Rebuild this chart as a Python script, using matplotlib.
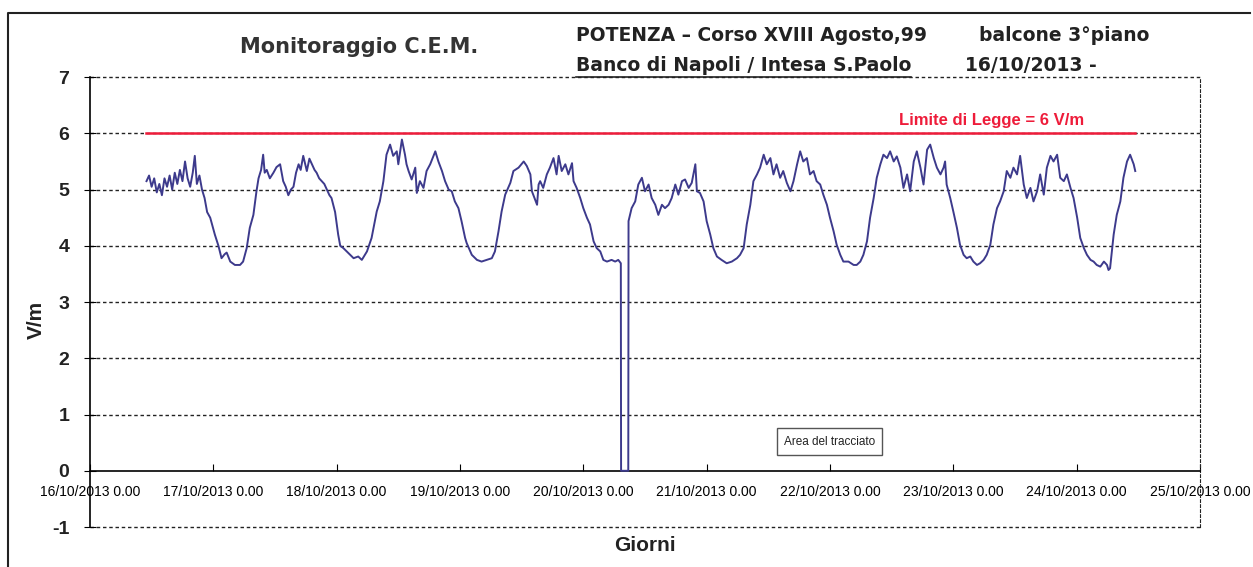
import matplotlib
matplotlib.use('Agg')
import matplotlib.pyplot as plt
from matplotlib.lines import Line2D

plt.rcParams['font.family'] = ['Liberation Sans', 'DejaVu Sans']

# ore dal 16/10/2013 0.00 e valori letti (V/m)
ore = [11.0, 11.5, 12.0, 12.5, 13.0, 13.5, 14.0, 14.5, 15.0, 15.5, 16.0, 16.5, 17.0, 17.5,
       18.0, 18.5, 19.0, 19.5, 20.0, 20.4, 20.8, 21.3, 21.8, 22.3, 22.8, 23.4, 24.3, 25.0,
       25.6, 26.2, 26.6, 27.3, 28.2, 29.2, 29.8, 30.5, 31.1, 31.8, 32.4, 32.8, 33.3, 33.7,
       34.0, 34.4, 35.0, 35.7, 36.3, 37.0, 37.6, 38.1, 38.6, 39.1, 39.6, 40.1, 40.6, 41.0,
       41.5, 42.2, 42.7, 43.2, 43.7, 44.1, 44.6, 45.1, 45.6, 46.1, 46.6, 47.0, 47.7, 48.3,
       48.7, 49.3, 50.3, 51.3, 52.2, 52.9, 53.9, 54.8, 55.8, 56.4, 57.1, 57.7, 58.4, 59.0,
       59.7, 60.0, 60.7, 61.3, 61.6, 62.0, 62.6, 63.3, 63.6, 64.2, 64.9, 65.5, 66.2, 67.2,
       67.8, 68.5, 69.1, 69.8, 70.4, 71.0, 71.7, 72.3, 73.0, 73.3, 74.3, 75.3, 76.2, 77.2,
       78.2, 78.8, 79.5, 80.1, 80.8, 81.8, 82.4, 83.4, 84.4, 85.0, 85.7, 86.0, 87.0, 87.3,
       87.6, 88.2, 88.9, 89.5, 90.2, 90.8, 91.2, 91.8, 92.5, 93.1, 93.8, 94.1, 94.7, 95.4,
       96.0, 96.7, 97.3, 98.0, 98.6, 99.3, 99.9, 100.6, 101.5, 102.2, 102.8, 103.3, 103.35,
       104.75, 104.8, 105.4, 106.1, 106.7, 107.4, 108.0, 108.7, 109.3, 110.0, 110.6, 111.3,
       111.9, 112.6, 113.2, 113.9, 114.5, 115.2, 115.8, 116.5, 117.1, 117.8, 118.1, 118.7,
       119.4, 120.0, 120.7, 121.3, 122.0, 122.9, 123.9, 124.9, 125.9, 126.5, 127.2, 127.8,
       128.5, 129.1, 129.8, 130.4, 131.1, 131.7, 132.4, 133.0, 133.6, 134.3, 134.9, 135.6,
       136.3, 136.9, 137.6, 138.2, 138.8, 139.5, 140.1, 140.8, 141.4, 142.1, 142.7, 143.4,
       144.0, 144.7, 145.3, 146.0, 146.6, 147.6, 148.6, 149.2, 149.9, 150.5, 151.2, 151.8,
       152.5, 153.1, 153.8, 154.4, 155.1, 155.7, 156.4, 157.0, 157.7, 158.3, 159.0, 159.6,
       160.3, 160.9, 161.6, 162.2, 162.9, 163.5, 164.2, 164.8, 165.5, 166.1, 166.4, 166.7,
       167.4, 168.0, 168.7, 169.3, 170.0, 170.6, 171.3, 171.9, 172.6, 173.2, 173.9, 174.5,
       175.2, 175.8, 176.5, 177.1, 177.8, 178.4, 179.1, 179.7, 180.4, 181.0, 181.7, 182.3,
       183.0, 183.6, 184.3, 184.9, 185.6, 186.2, 186.9, 187.5, 188.2, 188.8, 189.5, 190.1,
       190.8, 191.4, 192.1, 192.7, 193.4, 194.0, 194.7, 195.3, 195.9, 196.6, 197.3, 197.9,
       198.2, 198.5, 199.2, 199.8, 200.5, 201.1, 201.8, 202.4, 203.1, 203.4]
vm = [5.15, 5.25, 5.05, 5.2, 4.95, 5.1, 4.9, 5.2, 5.05, 5.25, 5.0, 5.3, 5.1, 5.35,
      5.15, 5.5, 5.2, 5.05, 5.3, 5.6, 5.1, 5.25, 5.0, 4.85, 4.6, 4.5, 4.2, 4.0,
      3.78, 3.85, 3.88, 3.72, 3.66, 3.66, 3.72, 3.96, 4.32, 4.55, 4.97, 5.2, 5.35, 5.62,
      5.3, 5.35, 5.2, 5.3, 5.4, 5.45, 5.15, 5.05, 4.9, 5.0, 5.05, 5.3, 5.45, 5.35,
      5.6, 5.33, 5.55, 5.45, 5.35, 5.3, 5.2, 5.15, 5.1, 5.0, 4.9, 4.85, 4.6, 4.2,
      4.0, 3.96, 3.87, 3.78, 3.81, 3.75, 3.9, 4.14, 4.61, 4.79, 5.15, 5.62, 5.8, 5.6,
      5.68, 5.45, 5.89, 5.62, 5.45, 5.33, 5.18, 5.39, 4.94, 5.15, 5.03, 5.33, 5.45, 5.68,
      5.5, 5.33, 5.15, 5.0, 4.97, 4.79, 4.67, 4.44, 4.14, 4.05, 3.84, 3.75, 3.72, 3.75,
      3.78, 3.9, 4.26, 4.61, 4.91, 5.12, 5.33, 5.39, 5.5, 5.42, 5.27, 4.97, 4.73, 5.09,
      5.15, 5.03, 5.27, 5.39, 5.56, 5.27, 5.6, 5.33, 5.45, 5.27, 5.47, 5.15, 5.03, 4.85,
      4.67, 4.5, 4.38, 4.08, 3.96, 3.9, 3.75, 3.72, 3.75, 3.72, 3.75, 3.69, 0.0,
      0.0, 4.44, 4.67, 4.79, 5.09, 5.21, 4.97, 5.09, 4.85, 4.73, 4.55, 4.73,
      4.67, 4.73, 4.85, 5.09, 4.91, 5.15, 5.18, 5.03, 5.12, 5.45, 4.97, 4.94,
      4.79, 4.44, 4.2, 3.96, 3.81, 3.75, 3.69, 3.72, 3.78, 3.84, 3.96, 4.38,
      4.73, 5.15, 5.27, 5.39, 5.62, 5.45, 5.56, 5.27, 5.45, 5.21, 5.33, 5.12,
      4.97, 5.15, 5.45, 5.68, 5.5, 5.56, 5.27, 5.33, 5.15, 5.09, 4.91, 4.73,
      4.5, 4.26, 4.02, 3.84, 3.72, 3.72, 3.66, 3.66, 3.72, 3.84, 4.08, 4.5,
      4.85, 5.21, 5.45, 5.62, 5.56, 5.68, 5.5, 5.59, 5.39, 5.03, 5.27, 4.97,
      5.5, 5.68, 5.39, 5.09, 5.71, 5.8, 5.56, 5.39, 5.27, 5.39, 5.5, 5.09,
      4.85, 4.61, 4.32, 4.02, 3.84, 3.78, 3.81, 3.72, 3.66, 3.69, 3.75, 3.84,
      4.02, 4.38, 4.67, 4.79, 4.97, 5.33, 5.21, 5.39, 5.27, 5.6, 5.09, 4.85,
      5.03, 4.79, 4.97, 5.27, 4.91, 5.39, 5.6, 5.5, 5.62, 5.21, 5.15, 5.27,
      5.03, 4.85, 4.5, 4.14, 3.96, 3.84, 3.75, 3.72, 3.66, 3.63, 3.72, 3.66,
      3.57, 3.6, 4.2, 4.55, 4.79, 5.21, 5.5, 5.62, 5.45, 5.33]

limite = 6
giorni = ['16/10/2013 0.00', '17/10/2013 0.00', '18/10/2013 0.00', '19/10/2013 0.00',
          '20/10/2013 0.00', '21/10/2013 0.00', '22/10/2013 0.00', '23/10/2013 0.00',
          '24/10/2013 0.00', '25/10/2013 0.00']

fig = plt.figure(figsize=(12.53, 5.67), dpi=100)
ax = fig.add_axes([0.0718, 0.0705, 0.8859, 0.7935])

ax.plot(ore, vm, color='#3d3a8c', linewidth=1.4, zorder=3)
ax.plot([ore[0], ore[-1]], [limite, limite], color='#ee1c3a', linewidth=1.8, zorder=2)

ax.set_xlim(0, 24 * (len(giorni) - 1))
ax.set_ylim(-1, 7)
ax.set_xticks([24 * i for i in range(len(giorni))])
ax.set_xticklabels(giorni, fontsize=10, color='#333333')
ax.set_yticks(range(-1, 8))
ax.set_yticklabels([str(v) for v in range(-1, 8)], fontsize=14, fontweight='bold', color='#222222')

for v in range(-1, 8):
    if v != 0:
        ax.axhline(v, color='#222222', linestyle=(0, (2.5, 2)), linewidth=1, zorder=1,
                   clip_on=False)

ax.spines['bottom'].set_position(('data', 0))
ax.spines['bottom'].set_linewidth(1.2)
ax.spines['top'].set_visible(False)
ax.spines['right'].set_linestyle((0, (2.5, 2)))
ax.spines['right'].set_color('#222222')
ax.spines['left'].set_linewidth(1.2)
ax.tick_params(axis='x', direction='in', length=5, pad=10)
ax.tick_params(axis='y', direction='inout', length=8, pad=11)

ax.set_ylabel('V/m', fontsize=15, fontweight='bold', color='#222222')
ax.yaxis.set_label_coords(-0.04, 0.46)
ax.set_xlabel('Giorni', fontsize=15, fontweight='bold', color='#222222')
ax.xaxis.set_label_coords(0.5, -0.02)

ax.text(0.896, 6.22, 'Limite di Legge = 6 V/m', transform=ax.get_yaxis_transform(),
        ha='right', va='center', fontsize=12, fontweight='bold', color='#ee1c3a')

ax.text(0.625, 0.19, 'Area del tracciato', transform=ax.transAxes, fontsize=8.5,
        ha='left', va='center', color='#222222',
        bbox=dict(boxstyle='square,pad=0.6', facecolor='white', edgecolor='#555555', linewidth=1))

hdr = ['DejaVu Sans']
fig.text(0.287, 0.917, 'Monitoraggio C.E.M.', fontsize=15, fontweight='bold',
         family=hdr, color='#333333', ha='center', va='center')
fig.text(0.460, 0.937, 'POTENZA \u2013 Corso XVIII Agosto,99', fontsize=13.5,
         family=hdr, fontweight='bold', color='#222222', ha='left', va='center')
fig.text(0.781, 0.937, 'balcone 3\u00b0piano', fontsize=13.5, fontweight='bold',
         family=hdr, color='#222222', ha='left', va='center')
fig.text(0.460, 0.885, 'Banco di Napoli / Intesa S.Paolo', fontsize=13.5,
         family=hdr, fontweight='bold', color='#222222', ha='left', va='center')
fig.text(0.770, 0.885, '16/10/2013 -', fontsize=13.5, fontweight='bold',
         family=hdr, color='#222222', ha='left', va='center')
fig.add_artist(Line2D([0.460, 0.727], [0.864, 0.864], color='#222222', linewidth=1.2))

# cornice della scansione
fig.add_artist(Line2D([0.006, 0.006, 0.998], [0.0, 0.977, 0.977], color='#222222', linewidth=1.5))

fig.savefig('out.png', dpi=100)
